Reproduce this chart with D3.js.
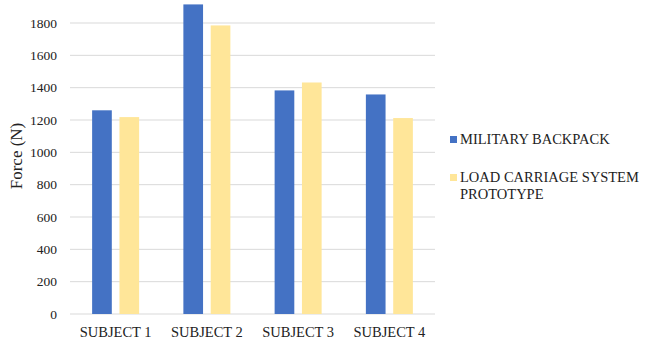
<!DOCTYPE html>
<html>
<head>
<meta charset="utf-8">
<script src="https://cdn.jsdelivr.net/npm/d3@7"></script>
<style>
  body { margin: 0; background: #fff; }
  svg text { font-family: "Liberation Serif", "DejaVu Serif", serif; }
</style>
</head>
<body>
<svg width="650" height="344"></svg>
<script>
const subjects = ['SUBJECT 1', 'SUBJECT 2', 'SUBJECT 3', 'SUBJECT 4'];
const seriesNames = ['MILITARY BACKPACK', 'LOAD CARRIAGE SYSTEM PROTOTYPE'];
const backpack = [1260, 1915, 1383, 1358];
const prototype = [1218, 1785, 1432, 1212];
const yTicks = [0, 200, 400, 600, 800, 1000, 1200, 1400, 1600, 1800];
const colors = ['#4472C4', '#FFE699'];

const svg = d3.select('svg');
const LEFT = 70, RIGHT = 435, TOP = 23, BOTTOM = 314;
const FONT = '"Liberation Serif", "DejaVu Serif", serif';

const data = subjects.map((s, i) => ({ subject: s, values: [backpack[i], prototype[i]] }));

const x = d3.scaleBand().domain(subjects).range([LEFT, RIGHT]);
const xInner = d3.scaleBand().domain([0, 1]).range([0, 47]).paddingInner(0.28);
const y = d3.scaleLinear().domain([0, 1800]).range([BOTTOM, TOP]);

// Gridlines
svg.append('g')
    .selectAll('line')
    .data(yTicks)
    .join('line')
    .attr('x1', LEFT)
    .attr('x2', RIGHT)
    .attr('y1', d => y(d))
    .attr('y2', d => y(d))
    .style('stroke', '#d9d9d9')
    .style('stroke-width', 1);

// Y tick labels
svg.append('g')
    .selectAll('text')
    .data(yTicks)
    .join('text')
    .attr('x', 57)
    .attr('y', d => y(d))
    .attr('dy', '0.35em')
    .attr('font-family', FONT)
    .style('text-anchor', 'end')
    .style('font-size', '13.5px')
    .style('fill', '#222')
    .text(d => d);

// Y axis title
svg.append('text')
    .attr('transform', 'translate(22,156) rotate(-90)')
    .attr('font-family', FONT)
    .style('text-anchor', 'middle')
    .style('font-size', '17px')
    .style('fill', '#222')
    .text('Force (N)');

// Bars
const groups = svg.append('g')
    .selectAll('g')
    .data(data)
    .join('g')
    .attr('transform', d => `translate(${x(d.subject) + (x.bandwidth() - 47) / 2},0)`);

groups.selectAll('rect')
    .data(d => d.values)
    .join('rect')
    .attr('x', (_d, i) => xInner(i))
    .attr('width', xInner.bandwidth())
    .attr('y', d => y(d))
    .attr('height', d => BOTTOM - y(d))
    .style('fill', (_d, i) => colors[i]);

// X labels
svg.append('g')
    .selectAll('text')
    .data(subjects)
    .join('text')
    .attr('x', d => x(d) + x.bandwidth() / 2)
    .attr('y', 337)
    .attr('font-family', FONT)
    .style('text-anchor', 'middle')
    .style('font-size', '14.5px')
    .style('fill', '#222')
    .text(d => d);

// Legend
const legendLines = [['MILITARY BACKPACK'], ['LOAD CARRIAGE SYSTEM', 'PROTOTYPE']];
const legendY = [144, 182];
const legend = svg.append('g')
    .selectAll('g')
    .data(seriesNames)
    .join('g')
    .attr('transform', (_d, i) => `translate(450,${legendY[i]})`);

legend.append('rect')
    .attr('x', 0)
    .attr('y', -8)
    .attr('width', 7)
    .attr('height', 7)
    .style('fill', (_d, i) => colors[i]);

legend.append('text')
    .attr('font-family', FONT)
    .style('font-size', '14.5px')
    .style('fill', '#222')
    .selectAll('tspan')
    .data((_d, i) => legendLines[i])
    .join('tspan')
    .attr('x', 10)
    .attr('dy', (_d, j) => j === 0 ? 0 : 16.5)
    .text(d => d);
</script>
</body>
</html>
